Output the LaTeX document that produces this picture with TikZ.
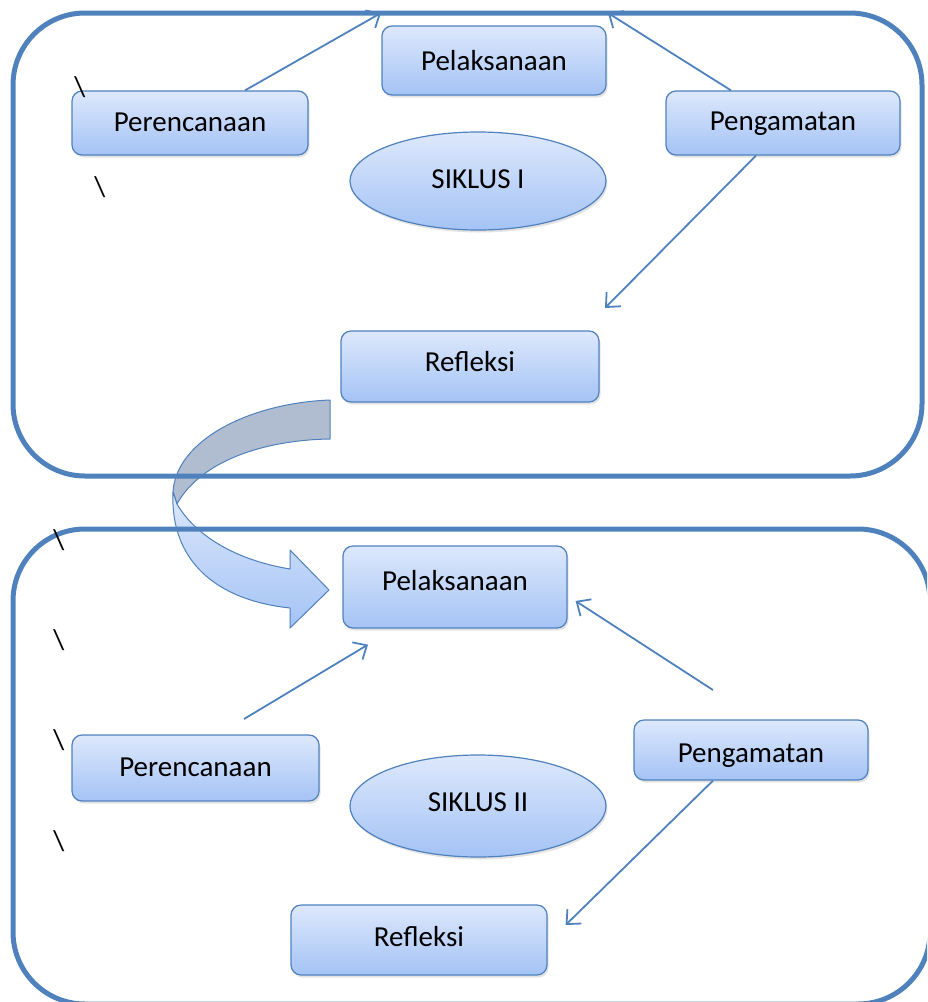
\documentclass[tikz,border=0pt]{standalone}
\usepackage{fontspec}
\setmainfont{Carlito}
\usetikzlibrary{arrows.meta,shapes.geometric,shadows}
\definecolor{frameblue}{RGB}{79,129,189}
\definecolor{boxtop}{RGB}{221,232,252}
\definecolor{boxbot}{RGB}{164,195,245}
\definecolor{ribbongray}{RGB}{176,188,208}
\begin{document}
\begin{tikzpicture}[x=1pt, y=-1pt, line join=round,
    box/.style={draw=frameblue, line width=1.2pt, rounded corners=10pt,
        top color=boxtop, bottom color=boxbot, inner sep=0pt,
        text height=17pt, text depth=0pt,
        font=\fontsize{29}{34}\selectfont,
        drop shadow={opacity=0.22, shadow xshift=1.5pt, shadow yshift=-2.5pt}},
    oval/.style={box, ellipse, sharp corners},
    frame/.style={draw=frameblue, line width=5pt, rounded corners=72pt},
    link/.style={draw=frameblue, line width=1.8pt, -{Straight Barb[length=11pt,width=20pt]}},
    ribbon/.style={draw=frameblue, line width=1pt},
    slash/.style={inner sep=0pt, font=\fontsize{28.7}{34}\selectfont}]
    \useasboundingbox (0,0) rectangle (927,1002);
    \clip (0,0) rectangle (927,1002);

    % Siklus I
    \node[box, minimum width=224pt, minimum height=69pt, text height=19pt] (pel1) at (494,60.5) {Pelaksanaan};
    \node[box, minimum width=236pt, minimum height=64pt] (per1) at (190,123) {Perencanaan};
    \node[box, minimum width=234pt, minimum height=64pt, text height=14pt] (peng1) at (783,123) {Pengamatan};
    \node[oval, minimum width=256pt, minimum height=98pt, text height=14pt] (sik1) at (478,181) {SIKLUS I};
    \node[box, minimum width=258pt, minimum height=71pt, text height=10.5pt] (ref1) at (470,366.5) {Refleksi};

    % Siklus II
    \node[box, minimum width=224pt, minimum height=82pt, text height=7.5pt] (pel2) at (455,587) {Pelaksanaan};
    \node[box, minimum width=247pt, minimum height=66pt] (per2) at (195.5,768) {Perencanaan};
    \node[box, minimum width=234pt, minimum height=60pt, text height=24pt] (peng2) at (751,750) {Pengamatan};
    \node[oval, minimum width=256pt, minimum height=102pt, text height=10pt] (sik2) at (478,806) {SIKLUS II};
    \node[box, minimum width=256pt, minimum height=70pt, text height=13.5pt] (ref2) at (419,940) {Refleksi};

    % curved arrow from Refleksi to Pelaksanaan
    \draw[ribbon, fill=ribbongray] (330,400) .. controls (250,403) and (176,440) .. (173,492)
        -- (177,504) .. controls (200,462) and (262,440) .. (330,439) -- cycle;
    \draw[ribbon, top color=boxtop, bottom color=boxbot] (173,492) .. controls (170,560) and (215,600) .. (290,608)
        -- (290,628) -- (329,590) -- (290,550) -- (290,569)
        .. controls (235,560) and (195,535) .. (177,504) -- cycle;

    % frames
    \draw[frame] (13,13) rectangle (922,476);
    \draw[frame] (13,529) rectangle (930,1004);

    % arrows I
    \coordinate (tip1) at (381,13);
    \coordinate (tip2) at (608,13);
    \coordinate (tip3) at (605,308);
    \draw[link] ([xshift=55pt]per1.north) -- (tip1);
    \draw[link] ([xshift=-52pt]peng1.north) -- (tip2);
    \draw[link] ([xshift=-27pt]peng1.south) -- (tip3);

    % arrows II
    \coordinate (from4) at (244,719);
    \coordinate (from5) at (713,690);
    \draw[link] (from4) -- ([xshift=-87pt,yshift=-16pt]pel2.south);
    \draw[link] (from5) -- ([xshift=8pt,yshift=-14pt]pel2.east);
    \draw[link] ([xshift=-38pt]peng2.south) -- ([xshift=18pt,yshift=15pt]ref2.east);

    % stray marks
    \node[slash] (s1) at (80,87) {\textbackslash};
    \node[slash] (s2) at (100,187) {\textbackslash};
    \foreach \y [count=\i] in {540,640,740,841}
        \node[slash] (m\i) at (59,\y) {\textbackslash};
\end{tikzpicture}
\end{document}
